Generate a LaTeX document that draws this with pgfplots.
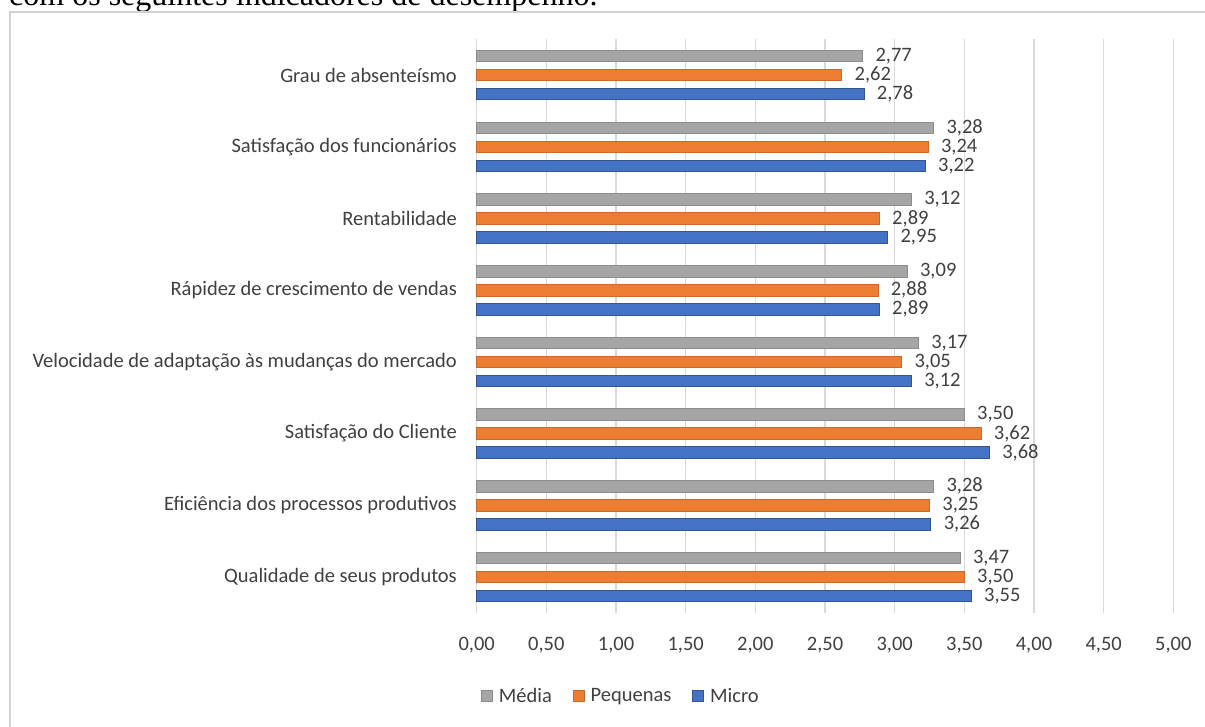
\documentclass[border=0pt]{standalone}
\usepackage{fontspec}
\setmainfont{Carlito}
\newfontfamily\bodyserif{Liberation Serif}
\usepackage{pgfplots}
\usepackage{pgfplotstable}
\pgfplotsset{compat=1.18}

\definecolor{barGray}{HTML}{A5A5A5}
\definecolor{barOrange}{HTML}{ED7D31}
\definecolor{barBlue}{HTML}{4472C4}
\definecolor{gridGray}{HTML}{D9D9D9}
\definecolor{txt}{HTML}{404040}
\definecolor{frameGray}{HTML}{D2D2D2}
\newcommand\chartfont{\fontsize{20.5bp}{24bp}\selectfont}

% indicator index (0 = bottom row), then the three company sizes
\pgfplotstableread{
idx micro pequenas media
0   3.55  3.50     3.47
1   3.26  3.25     3.28
2   3.68  3.62     3.50
3   3.12  3.05     3.17
4   2.89  2.88     3.09
5   2.95  2.89     3.12
6   3.22  3.24     3.28
7   2.78  2.62     2.77
}\indicadores

\begin{document}
\begin{tikzpicture}
\useasboundingbox (0,0) rectangle (1205bp,727bp);
\clip (0,0) rectangle (1205bp,727bp);

% last line of the preceding paragraph
\node[anchor=base west, inner sep=0pt,
      font=\bodyserif\fontsize{32bp}{38bp}\selectfont]
  at (9bp,721bp) {com os seguintes indicadores de desempenho.};

% chart frame
\draw[frameGray, line width=2bp] (10bp,-20bp) |- (1240bp,715bp);

\begin{axis}[
  at={(476.7bp,114.3bp)}, anchor=south west,
  scale only axis, width=696.6bp, height=573.4bp,
  xbar,
  xmin=0, xmax=5, ymin=-0.5, ymax=7.5,
  axis line style={draw=none},
  major tick length=0pt,
  xmajorgrids, major grid style={gridGray, line width=1.4bp},
  xtick={0,0.5,1,1.5,2,2.5,3,3.5,4,4.5,5},
  xticklabel={\pgfmathprintnumber[fixed,fixed zerofill,precision=2,use comma,assume math mode=true]{\tick}},
  x tick label style={font=\chartfont, text=txt, anchor=north, inner sep=0pt, yshift=-23.8bp},
  ytick={0,1,2,3,4,5,6,7},
  yticklabels={Qualidade de seus produtos,
               Eficiência dos processos produtivos,
               Satisfação do Cliente,
               Velocidade de adaptação às mudanças do mercado,
               Rápidez de crescimento de vendas,
               Rentabilidade,
               Satisfação dos funcionários,
               Grau de absenteísmo},
  y tick label style={font=\chartfont, text=txt, anchor=east, inner sep=0pt, xshift=-19.7bp},
  point meta=x,
  nodes near coords={\pgfmathprintnumber[fixed,fixed zerofill,precision=2,use comma,assume math mode=true]{\pgfplotspointmeta}},
  every node near coord/.append style={font=\chartfont, text=txt, anchor=west, inner sep=0pt, xshift=12.5bp},
  clip=false,
  reverse legend,
  legend columns=-1,
  legend style={at={(0.0062,-0.1453)}, anchor=west, draw=none, fill=none,
                inner sep=0pt, outer sep=0pt, font=\chartfont, text=txt,
                nodes={inner sep=0pt},
                /tikz/every odd column/.append style={column sep=6bp},
                /tikz/every even column/.append style={column sep=21bp}},
  legend image code/.code={\draw[#1, line width=0.8bp] (0bp,-5.5bp) rectangle (11bp,5.5bp);},
]
\addplot[fill=barBlue, draw=barBlue!75!black, line width=0.8bp,
         bar width=11.5bp, bar shift=-19bp]
  table[x=micro, y=idx] {\indicadores};
\addplot[fill=barOrange, draw=barOrange!85!black, line width=0.8bp,
         bar width=11.5bp, bar shift=0bp]
  table[x=pequenas, y=idx] {\indicadores};
\addplot[fill=barGray, draw=barGray!85!black, line width=0.8bp,
         bar width=11.5bp, bar shift=19bp]
  table[x=media, y=idx] {\indicadores};
\legend{Micro, Pequenas, Média}
\end{axis}
\end{tikzpicture}
\end{document}
